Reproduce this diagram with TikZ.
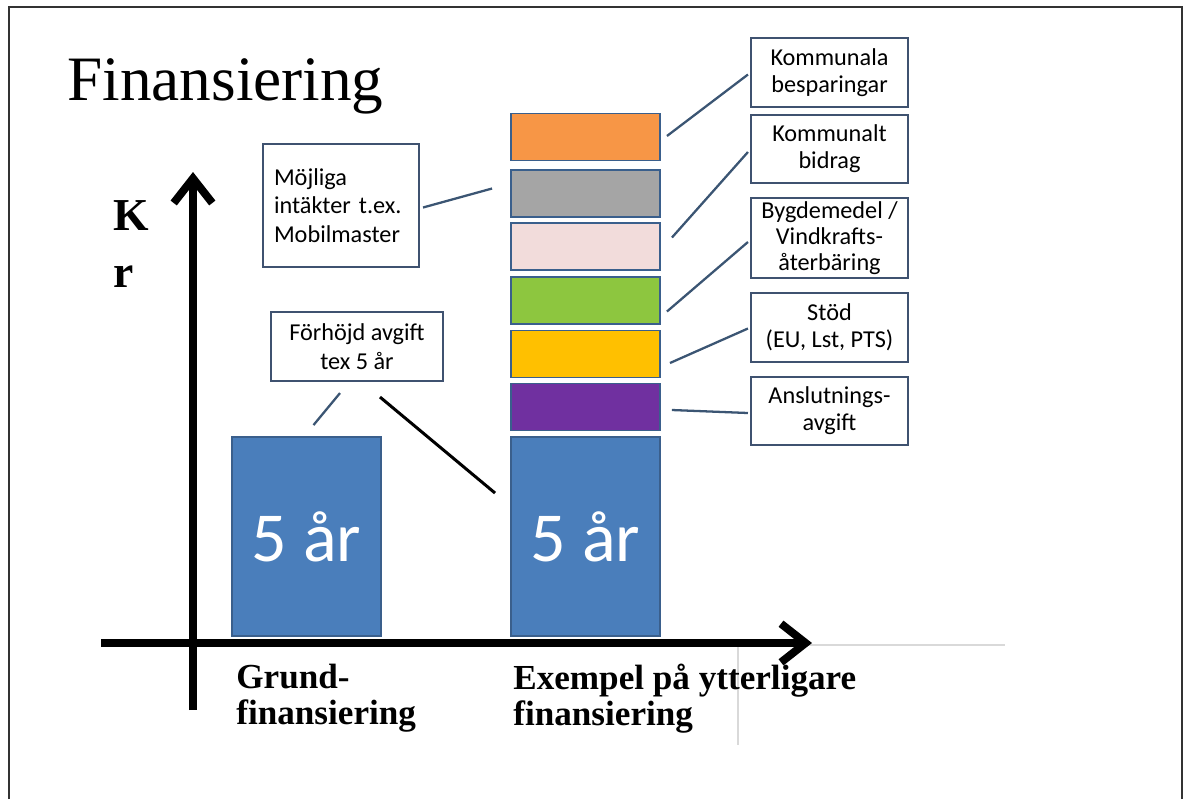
\documentclass[tikz,border=0pt]{standalone}
\usepackage{fontspec}
\setmainfont{Liberation Serif}
\newfontfamily\calibri{Carlito}
\usepackage{xcolor}
\definecolor{barblue}{HTML}{4A7EBB}
\definecolor{barorange}{HTML}{F79646}
\definecolor{bargray}{HTML}{A5A5A5}
\definecolor{barpink}{HTML}{F2DCDB}
\definecolor{bargreen}{HTML}{8DC63F}
\definecolor{baryellow}{HTML}{FFC000}
\definecolor{barpurple}{HTML}{7030A0}
\definecolor{barline}{HTML}{3A5F8C}
\definecolor{boxline}{HTML}{3F5270}
\definecolor{linkcolor}{HTML}{3B5573}
\definecolor{framecolor}{HTML}{333333}
\usepackage{tikz}
\usetikzlibrary{calc,arrows.meta}

\begin{document}
\begin{tikzpicture}[
  x=0.02cm, y=-0.02cm,
  bar/.style={draw=barline, line width=1.1pt, minimum width=2.98cm, minimum height=0.94cm, inner sep=0pt},
  bigbar/.style={bar, fill=barblue, minimum height=3.98cm, text=white, font=\calibri\fontsize{40}{40}\selectfont},
  callout/.style={draw=boxline, line width=1.2pt, fill=white, align=center, inner sep=0pt, font=\calibri\fontsize{13.8}{15.4}\selectfont},
  link/.style={draw=linkcolor, line width=1.3pt},
  axis/.style={line width=4.5pt, -{Straight Barb[length=14pt,width=22pt]}},
  axislabel/.style={anchor=base west, inner sep=0pt, font=\bfseries\fontsize{26}{26}\selectfont},
  catlabel/.style={anchor=north west, align=left, inner sep=0pt, font=\bfseries\fontsize{20}{20.4}\selectfont},
]
  \useasboundingbox (0,0) rectangle (1189,799);

  \draw[framecolor, line width=1.2pt] (9,799) -- (9,7) -- (1182,7) -- (1182,799);
  \draw[black!15, line width=0.6pt] (740,645) -- (1005,645);
  \draw[black!15, line width=0.6pt] (738,645) -- (738,745);

  \node[anchor=base west, inner sep=0pt, font=\fontsize{36}{36}\selectfont] (title) at (67,100) {Finansiering};

  \coordinate (yfoot) at (193,710);
  \coordinate (ytip) at (193,172);
  \coordinate (xfoot) at (101,643);
  \coordinate (xtip) at (812,643);
  \draw[axis] (yfoot) -- (ytip);
  \draw[axis] (xfoot) -- (xtip);

  \node[axislabel] (kk) at (113,230) {K};
  \node[axislabel] (rr) at (113,287) {r};

  \node[bigbar] (basleft) at (306.5,536.5) {5 år};
  \node[bigbar] (basright) at (585.5,536.5) {5 år};
  \node[bar, fill=barpurple] (purple) at (585.5,407) {};
  \node[bar, fill=baryellow] (yellow) at (585.5,354) {};
  \node[bar, fill=bargreen] (green) at (585.5,300.5) {};
  \node[bar, fill=barpink] (pink) at (585.5,246.5) {};
  \node[bar, fill=bargray] (gray) at (585.5,193.5) {};
  \node[bar, fill=barorange] (orange) at (585.5,137) {};

  \node[callout, minimum width=3.14cm, minimum height=1.38cm] (besp) at (829.5,72.5) {Kommunala\\besparingar};
  \node[callout, minimum width=3.14cm, minimum height=1.36cm] (bidrag) at (829.5,149) {Kommunalt\\bidrag};
  \node[callout, minimum width=3.14cm, minimum height=1.6cm, font=\calibri\fontsize{13.8}{14.7}\selectfont] (bygd) at (829.5,238) {Bygdemedel /\\Vindkrafts-\\återbäring};
  \node[callout, minimum width=3.14cm, minimum height=1.38cm] (stod) at (829.5,327.5) {Stöd\\(EU, Lst, PTS)};
  \node[callout, minimum width=3.14cm, minimum height=1.36cm] (ansl) at (829.5,411) {Anslutnings-\\avgift};
  \node[callout, align=left, inner xsep=0.22cm, text width=2.68cm, minimum height=2.46cm, font=\calibri\fontsize{13.8}{16.4}\selectfont] (mojliga) at (341,205.5) {Möjliga\\intäkter t.ex.\\Mobilmaster};
  \node[callout, minimum width=3.44cm, minimum height=1.38cm, font=\calibri\fontsize{13.8}{16.4}\selectfont] (forhojd) at (357,346.5) {Förhöjd avgift\\tex 5 år};

  \draw[link] ($(orange.east)+(6,-1)$) -- ($(besp.west)+(-2,2)$);
  \draw[link] ($(pink.east)+(11,-9)$) -- ($(bidrag.west)+(-2,3)$);
  \draw[link] ($(green.east)+(6,11)$) -- ($(bygd.west)+(-2,4)$);
  \draw[link] ($(yellow.east)+(9,9)$) -- ($(stod.west)+(-2,1)$);
  \draw[link] ($(purple.east)+(11,3)$) -- ($(ansl.west)+(-2,2)$);
  \draw[link] ($(mojliga.east)+(3,2)$) -- ($(gray.west)+(-18,-5)$);
  \draw[link] ($(forhojd.south)+(-17,11)$) -- ($(basleft.north)+(7,-11)$);
  \draw[black, line width=1.7pt] ($(forhojd.south)+(23,15)$) -- ($(basright.north west)+(-15,57)$);

  \node[catlabel] (grund) at (236,664) {Grund-\\finansiering};
  \node[catlabel] (exempel) at (513,664) {Exempel på ytterligare\\finansiering};
\end{tikzpicture}
\end{document}
